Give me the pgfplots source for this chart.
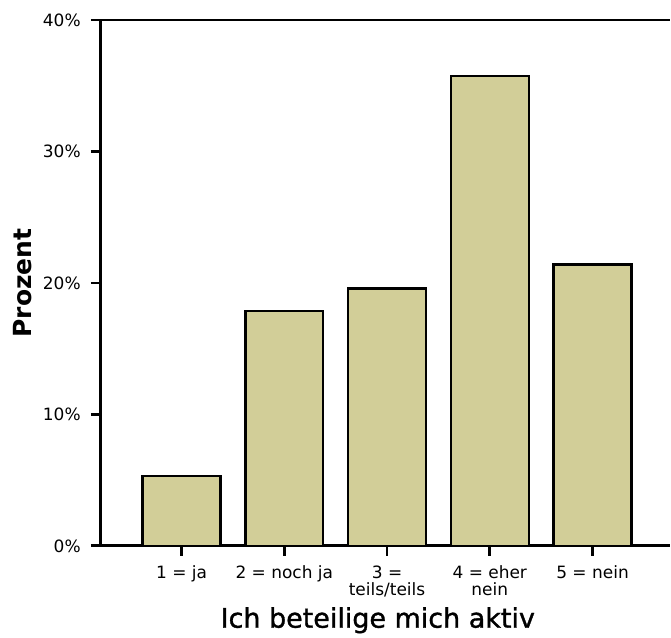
\documentclass[border=0pt]{standalone}
\usepackage{fontspec}
\setmainfont{DejaVu Sans}
\newfontfamily\medfont[FakeBold=1.2]{DejaVu Sans}
\usepackage{pgfplots}
\pgfplotsset{compat=1.18}
\definecolor{barfill}{RGB}{210,206,152}
\begin{document}
\begin{tikzpicture}
\begin{axis}[
  name=ax,
  scale only axis,
  width=570bp, height=527bp,
  xmin=0.214, xmax=5.75,
  ymin=0, ymax=40,
  axis x line=bottom, axis y line=left,
  axis line style={-, line width=2.8bp},
  ybar, bar width=78bp,
  xtick={1,2,3,4,5},
  xticklabels={1 = ja, 2 = noch ja, {3 =\\teils/teils}, {4 = eher\\nein}, 5 = nein},
  ytick={0,10,20,30,40},
  yticklabels={0\%,10\%,20\%,30\%,40\%},
  tick align=outside,
  major tick length=10bp,
  tick style={line width=2.8bp, black},
  xticklabel style={font=\fontsize{17bp}{16.5bp}\selectfont, align=center, anchor=north, inner sep=0pt, yshift=-10bp},
  yticklabel style={font=\fontsize{17bp}{17bp}\selectfont, anchor=east, inner sep=0pt, xshift=-10bp},
  xlabel={Ich beteilige mich aktiv},
  xlabel style={font=\fontsize{27bp}{27bp}\medfont, at={(axis description cs:0.487,0)}, anchor=base, yshift=-82bp, inner sep=0pt},
  ylabel={Prozent},
  ylabel style={font=\fontsize{25bp}{25bp}\selectfont\bfseries, at={(axis description cs:-0.121,0.5)}, anchor=south, inner sep=0pt},
]
\addplot[draw=black, line width=2.3bp, fill=barfill] coordinates {
  (1,5.31) (2,17.84) (3,19.58) (4,35.75) (5,21.40)
};
\end{axis}
\draw[line width=2.8bp] (ax.north west) -- (ax.north east);
\path (ax.south west) ++(-101bp,-92bp) rectangle ([yshift=20bp]ax.north east);
\end{tikzpicture}
\end{document}
